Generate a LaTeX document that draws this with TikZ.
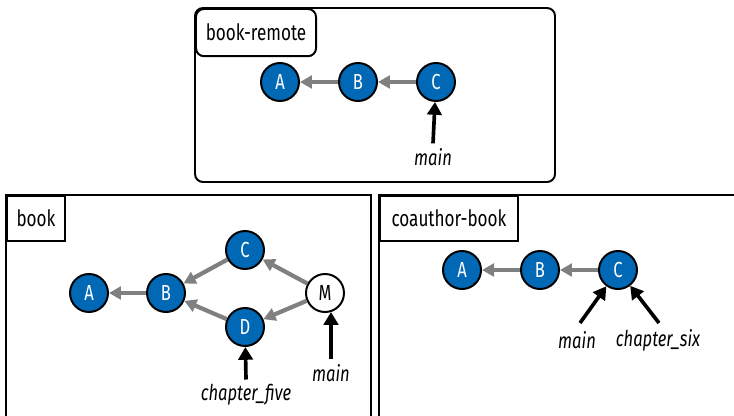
\documentclass[tikz,border=0pt]{standalone}
\usepackage{fontspec}
\setmainfont{Fira Sans}[FakeStretch=0.76]
\usetikzlibrary{arrows.meta,positioning}

\definecolor{commitblue}{HTML}{0068B5}
\definecolor{linkgray}{HTML}{808080}

\begin{document}
\begin{tikzpicture}[
    x=0.025cm, y=-0.025cm,
    node distance=0.95cm,
    commit/.style={circle, draw=black, line width=1.4pt, fill=commitblue, text=white, minimum size=0.95cm, inner sep=0pt, font=\fontsize{15.5}{17}\selectfont},
    merge/.style={commit, fill=white, text=black},
    repo/.style={draw=black, line width=1.4pt},
    tag/.style={draw=black, line width=1.4pt, fill=white, anchor=north west, inner sep=0pt, font=\fontsize{16}{18}\selectfont},
    refname/.style={font=\itshape\fontsize{15.5}{17}\selectfont},
    parent/.style={-{Triangle[length=3mm,width=3.2mm]}, draw=linkgray, line width=3pt},
    pointer/.style={-{Triangle[length=3.2mm,width=3.6mm]}, draw=black, line width=2.6pt}
]
\useasboundingbox (0,0) rectangle (734,415);
\clip (0,0) rectangle (734,415);

% book-remote
\draw[repo, rounded corners=0.2cm] (195,8) rectangle (555,182);
\node[tag, rounded corners=0.2cm, minimum width=3cm, minimum height=1.18cm] (remotetag) at (195,8) {book-remote};
\node[commit] (rA) at (280,82) {A};
\node[commit, right=of rA] (rB) {B};
\node[commit, right=of rB] (rC) {C};
\node[refname] (rmain) at (433,157) {main};
\draw[parent] (rB) -- (rA);
\draw[parent] (rC) -- (rB);
\draw[pointer] (rmain.north) -- (rC);

% book
\draw[repo] (6,195) rectangle (371,440);
\node[tag, minimum width=1.45cm, minimum height=1.12cm] (booktag) at (6,195) {book};
\node[commit] (bA) at (89,293) {A};
\node[commit] (bB) at (166,293) {B};
\node[commit] (bC) at (245,250) {C};
\node[commit] (bD) at (245,327) {D};
\node[merge] (bM) at (325,293) {M};
\node[refname] (bfive) at (246,395) {chapter\_five};
\node[refname] (bmain) at (331,373) {main};
\coordinate (bmtip) at (331,312);
\draw[parent] (bB) -- (bA);
\draw[parent] (bC) -- (bB);
\draw[parent] (bD) -- (bB);
\draw[parent] (bM) -- (bC);
\draw[parent] (bM) -- (bD);
\draw[pointer] (bfive.north) -- (bD);
\draw[pointer] (bmain.north) -- (bmtip);

% coauthor-book
\draw[repo] (379,195) rectangle (760,440);
\node[tag, minimum width=3.45cm, minimum height=1.12cm] (coauthortag) at (379,195) {coauthor-book};
\node[commit] (cA) at (462,270) {A};
\node[commit, right=of cA] (cB) {B};
\node[commit, right=of cB] (cC) {C};
\node[refname] (cmain) at (577,340) {main};
\node[refname] (csix) at (658,340) {chapter\_six};
\coordinate (cmaintail) at (580,323);
\coordinate (csixtail) at (659,323);
\draw[parent] (cB) -- (cA);
\draw[parent] (cC) -- (cB);
\draw[pointer] (cmaintail) -- (cC);
\draw[pointer] (csixtail) -- (cC);
\end{tikzpicture}
\end{document}
